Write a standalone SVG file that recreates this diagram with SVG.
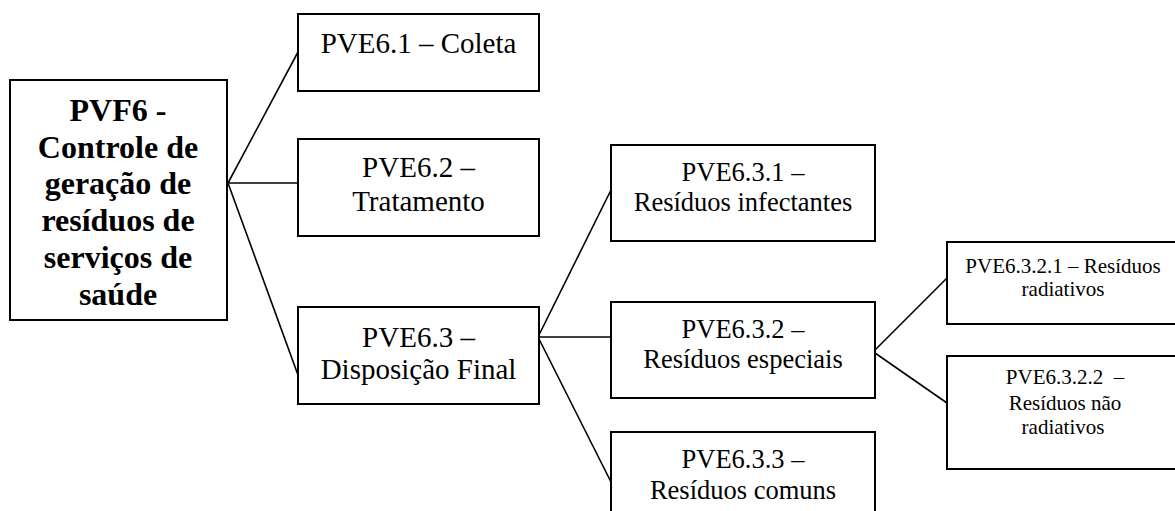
<svg xmlns="http://www.w3.org/2000/svg" width="1175" height="511" viewBox="0 0 1175 511">
<style>
.box{fill:#fff;stroke:#000;stroke-width:2}
.ln{stroke:#000;stroke-width:1.6;fill:none}
text{font-family:'Liberation Serif',serif;fill:#000;text-anchor:middle}
.b{font-weight:bold;font-size:32px}
.l1{font-size:29px}
.l3{font-size:26.5px}
.l4{font-size:21px}
</style>
<rect width="1175" height="511" fill="#fff"/>
<g id="connectors">
<line class="ln" x1="228" y1="183" x2="298" y2="52"/>
<line class="ln" x1="228" y1="183" x2="298" y2="183"/>
<line class="ln" x1="228" y1="183" x2="298" y2="375"/>
<line class="ln" x1="538" y1="337" x2="611" y2="190"/>
<line class="ln" x1="538" y1="337" x2="611" y2="337"/>
<line class="ln" x1="538" y1="337" x2="611" y2="482"/>
<line class="ln" x1="875" y1="350" x2="947" y2="278"/>
<line class="ln" x1="875" y1="353" x2="947" y2="403"/>
</g>
<g id="pvf6">
<rect class="box" x="10" y="80" width="217" height="240"/>
<text class="b" x="118" y="121">PVF6 -</text>
<text class="b" x="118" y="157.5">Controle de</text>
<text class="b" x="118" y="194">geração de</text>
<text class="b" x="118" y="231">resíduos de</text>
<text class="b" x="118" y="268">serviços de</text>
<text class="b" x="118" y="304.5">saúde</text>
</g>
<g id="pve61">
<rect class="box" x="298" y="14" width="241" height="77"/>
<text class="l1" x="418.5" y="53">PVE6.1 – Coleta</text>
</g>
<g id="pve62">
<rect class="box" x="298" y="139" width="241" height="97"/>
<text class="l1" x="418.5" y="177">PVE6.2 –</text>
<text class="l1" x="418.5" y="211">Tratamento</text>
</g>
<g id="pve63">
<rect class="box" x="298" y="307" width="241" height="97"/>
<text class="l1" x="418.5" y="347">PVE6.3 –</text>
<text class="l1" x="418.5" y="379">Disposição Final</text>
</g>
<g id="pve631">
<rect class="box" x="611" y="145" width="264" height="96"/>
<text class="l3" x="743" y="180.5">PVE6.3.1 –</text>
<text class="l3" x="743" y="211">Resíduos infectantes</text>
</g>
<g id="pve632">
<rect class="box" x="611" y="302" width="264" height="96"/>
<text class="l3" x="743" y="337.5">PVE6.3.2 –</text>
<text class="l3" x="743" y="367.5">Resíduos especiais</text>
</g>
<g id="pve633">
<rect class="box" x="611" y="432" width="264" height="90"/>
<text class="l3" x="743" y="468">PVE6.3.3 –</text>
<text class="l3" x="743" y="499">Resíduos comuns</text>
</g>
<g id="pve6321">
<rect class="box" x="947" y="242" width="232" height="82"/>
<text class="l4" x="1063" y="273">PVE6.3.2.1 – Resíduos</text>
<text class="l4" x="1063" y="296">radiativos</text>
</g>
<g id="pve6322">
<rect class="box" x="947" y="356" width="232" height="113"/>
<text class="l4" x="1065" y="384" xml:space="preserve">PVE6.3.2.2  –</text>
<text class="l4" x="1065" y="410">Resíduos não</text>
<text class="l4" x="1063" y="434">radiativos</text>
</g>
</svg>
